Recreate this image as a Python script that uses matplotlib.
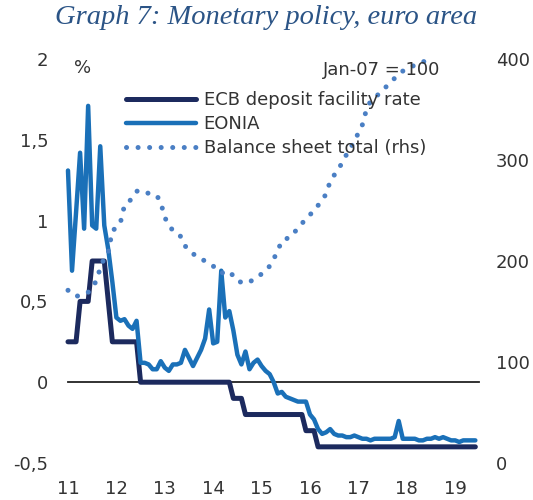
import numpy as np
import matplotlib
matplotlib.use("Agg")
import matplotlib.pyplot as plt
from matplotlib.lines import Line2D

# monthly data, Jan 2011 onwards (x axis = year, 11 = 2011)
start_year = 11
eonia = [
    1.31, 0.69, 1.05, 1.42, 0.95, 1.71, 0.97, 0.95, 1.46, 0.97, 0.82, 0.62,
    0.40, 0.38, 0.39, 0.35, 0.33, 0.38, 0.12, 0.12, 0.11, 0.08, 0.08, 0.13,
    0.09, 0.07, 0.11, 0.11, 0.12, 0.20, 0.15, 0.10, 0.15, 0.20, 0.27, 0.45,
    0.24, 0.25, 0.69, 0.40, 0.44, 0.32, 0.17, 0.11, 0.19, 0.08, 0.12, 0.14,
    0.10, 0.07, 0.05, 0.00, -0.07, -0.06, -0.09, -0.10, -0.11, -0.12, -0.12, -0.12,
    -0.20, -0.23, -0.29, -0.32, -0.31, -0.29, -0.32, -0.33, -0.33, -0.34, -0.34, -0.33,
    -0.34, -0.35, -0.35, -0.36, -0.35, -0.35, -0.35, -0.35, -0.35, -0.34, -0.24, -0.35,
    -0.35, -0.35, -0.35, -0.36, -0.36, -0.35, -0.35, -0.34, -0.35, -0.34, -0.35, -0.36,
    -0.36, -0.37, -0.36, -0.36, -0.36, -0.36,
]
deposit_rate = [
    0.25, 0.25, 0.25, 0.50, 0.50, 0.50, 0.75, 0.75, 0.75, 0.75, 0.50, 0.25,
    0.25, 0.25, 0.25, 0.25, 0.25, 0.25, 0.00, 0.00, 0.00, 0.00, 0.00, 0.00,
    0.00, 0.00, 0.00, 0.00, 0.00, 0.00, 0.00, 0.00, 0.00, 0.00, 0.00, 0.00,
    0.00, 0.00, 0.00, 0.00, 0.00, -0.10, -0.10, -0.10, -0.20, -0.20, -0.20, -0.20,
    -0.20, -0.20, -0.20, -0.20, -0.20, -0.20, -0.20, -0.20, -0.20, -0.20, -0.20, -0.30,
    -0.30, -0.30, -0.40, -0.40, -0.40, -0.40, -0.40, -0.40, -0.40, -0.40, -0.40, -0.40,
    -0.40, -0.40, -0.40, -0.40, -0.40, -0.40, -0.40, -0.40, -0.40, -0.40, -0.40, -0.40,
    -0.40, -0.40, -0.40, -0.40, -0.40, -0.40, -0.40, -0.40, -0.40, -0.40, -0.40, -0.40,
    -0.40, -0.40, -0.40, -0.40, -0.40, -0.40,
]
# ECB balance sheet total, Jan-07 = 100 (rhs)
balance_sheet = [
    171, 168, 165, 166, 167, 169, 174, 180, 193, 203, 209, 230,
    233, 238, 255, 258, 263, 269, 270, 268, 267, 266, 265, 258,
    243, 236, 230, 228, 224, 215, 211, 207, 205, 202, 200, 198,
    195, 191, 188, 189, 190, 185, 180, 179, 178, 179, 182, 185,
    187, 190, 195, 202, 210, 220, 222, 223, 228, 232, 237, 242,
    246, 249, 255, 261, 266, 279, 285, 290, 298, 305, 312, 318,
    327, 335, 350, 358, 362, 365, 369, 373, 377, 381, 384, 388,
    390, 392, 394, 396, 397, 399,
]
year_ticks = [11, 12, 13, 14, 15, 16, 17, 18, 19]
left_ticks = [-0.5, 0, 0.5, 1, 1.5, 2]
left_labels = ["-0,5", "0", "0,5", "1", "1,5", "2"]
right_ticks = [0, 100, 200, 300, 400]

x_rates = start_year + np.arange(len(eonia)) / 12
x_bs = start_year + np.arange(len(balance_sheet)) / 12

navy = "#1c2a5e"
blue = "#1a70b8"
light = "#4a7fc4"
txt = "#333333"

plt.rcParams["font.family"] = ["DejaVu Sans"]

fig = plt.figure(figsize=(5.33, 5.0), dpi=100)
ax = fig.add_axes([60 / 533, 37 / 500, 425 / 533, 404 / 500])
ax.set_xlim(10.835, 19.616)
ax.set_ylim(-0.5, 2)

ax.axhline(0, xmin=(11 - 10.835) / (19.616 - 10.835), xmax=(19.5 - 10.835) / (19.616 - 10.835),
           color="#222222", lw=1.3, zorder=1)
ax.plot(x_rates, deposit_rate, color=navy, lw=3.6, solid_capstyle="round",
        solid_joinstyle="round", zorder=3, label="ECB deposit facility rate")
ax.plot(x_rates, eonia, color=blue, lw=3.2, solid_capstyle="round",
        solid_joinstyle="round", zorder=4, label="EONIA")

ax2 = ax.twinx()
ax2.set_ylim(0, 400)
ax2.plot(x_bs, balance_sheet, color=light, lw=3.6, linestyle=(0, (0.01, 2.3)),
         dash_capstyle="round", label="Balance sheet total (rhs)")

for a in (ax, ax2):
    for s in a.spines.values():
        s.set_visible(False)
    a.tick_params(length=0, labelsize=13, labelcolor=txt)

ax.set_xticks(year_ticks)
ax.set_xticklabels([str(y) for y in year_ticks])
ax.set_yticks(left_ticks)
ax.set_yticklabels(left_labels)
ax2.set_yticks(right_ticks)
ax.tick_params(axis="x", pad=12)
ax.tick_params(axis="y", pad=8.5)
ax2.tick_params(axis="y", pad=8)

handles = [
    Line2D([], [], color=navy, lw=3.6, solid_capstyle="round"),
    Line2D([], [], color=blue, lw=3.2, solid_capstyle="round"),
    Line2D([], [], color=light, lw=3.6, linestyle=(0, (0.01, 2.3)), dash_capstyle="round"),
]
labels = ["ECB deposit facility rate", "EONIA", "Balance sheet total (rhs)"]
leg = fig.legend(handles, labels, loc="upper left", bbox_to_anchor=(126 / 533, 1 - 91 / 500),
                 frameon=False, fontsize=13, handlelength=3.9, handletextpad=0.4,
                 labelspacing=0.34, borderpad=0, borderaxespad=0)
for t in leg.get_texts():
    t.set_color(txt)

fig.text(83 / 533, 1 - 68 / 500, "%", ha="center", va="center", fontsize=13, color=txt)
fig.text(382 / 533, 1 - 70 / 500, "Jan-07 = 100", ha="center", va="center", fontsize=13, color=txt)

fig.text(0.5, 1 - 18 / 500, "Graph 7: Monetary policy, euro area", ha="center", va="center",
         fontsize=20.5, style="italic", family="Liberation Serif", color="#2b5486")

fig.savefig("out.png", dpi=100)
